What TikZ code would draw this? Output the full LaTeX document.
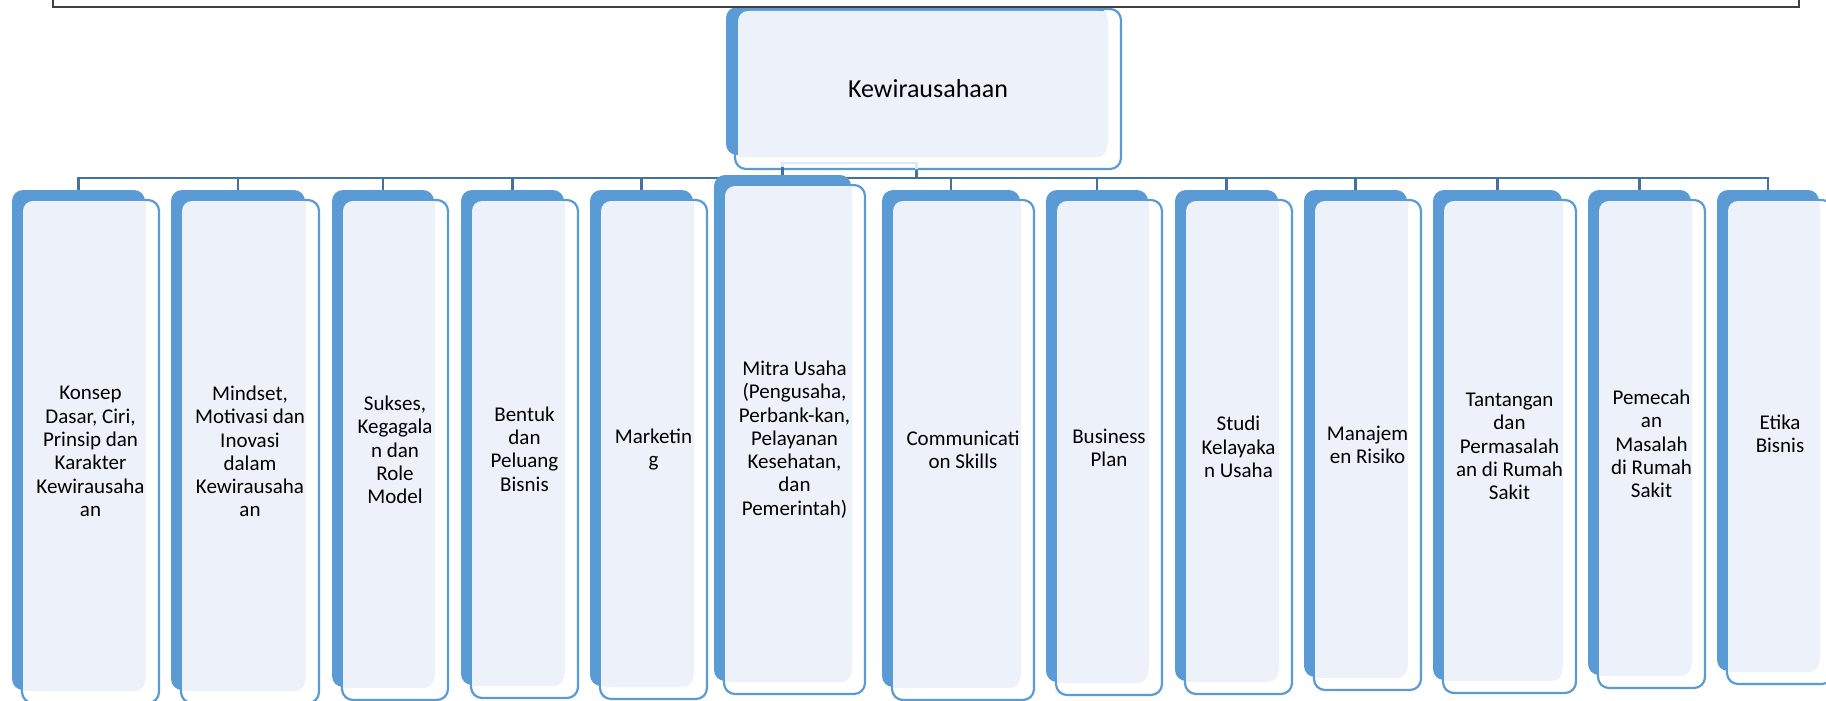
\documentclass[tikz,border=0pt]{standalone}
\usepackage{fontspec}
\setmainfont{Carlito}
\usetikzlibrary{calc}
\definecolor{accblue}{RGB}{91,155,213}
\definecolor{lightfill}{RGB}{237,242,250}
\definecolor{connc}{RGB}{68,114,160}
\definecolor{framec}{RGB}{64,64,64}
\definecolor{faintc}{RGB}{222,231,243}
\pgfdeclarelayer{bg}
\pgfsetlayers{bg,main}
\tikzset{
  outl/.style={draw=accblue, line width=2.2pt, fill=white, rounded corners=11pt},
  bluebox/.style={fill=accblue, draw=none, rounded corners=11pt, inner sep=0pt, outer sep=0pt, rectangle},
  lbl/.style={align=center, inner sep=0pt, font=\fontsize{21}{23.3}\selectfont, text=black},
  toplbl/.style={align=center, inner sep=0pt, font=\fontsize{26}{30}\selectfont, text=black},
  conn/.style={draw=connc, line width=2.6pt},
  faint/.style={draw=faintc, line width=2.4pt},
  framel/.style={draw=framec, line width=2pt},
}
% [text y shift], name, Al, Ar, At, Ab, text
\newcommand{\kbox}[7][0]{%
  \pgfmathsetmacro\kwA{#4-#3}%
  \pgfmathsetmacro\khA{#6-#5}%
  \draw[outl] ({#3+10},{#5+10}) rectangle ({#4+14},{#6+13});
  \node[bluebox, minimum width=\kwA pt, minimum height=\khA pt] (#2) at ({(#3+#4)/2},{(#5+#6)/2}) {};
  \fill[lightfill, rounded corners=10pt] ({#3+11},{#5+11}) rectangle ({#4},{#6+1});
  \fill[lightfill] ({#4-11},{#5+11}) rectangle ({#4},{#5+22});
  \fill[lightfill] ({#3+11},{#6+1}) rectangle ({#3+22},{#6-10});
  \node[lbl] (#2t) at ({(#3+#4)/2+12},{(#5+#6)/2+11.5+#1}) {#7};
}
\begin{document}
\begin{tikzpicture}[x=1pt, y=-1pt]
\useasboundingbox (0,0) rectangle (1826,701);

% top box
\draw[outl] (735,9) rectangle (1121,169);
\node[bluebox, minimum width=381pt, minimum height=148pt] (root) at (916.5,81) {};
\fill[lightfill, rounded corners=10pt] (738,11) rectangle (1107,157);
\fill[lightfill] (1096,11) rectangle (1107,22);
\fill[lightfill] (738,157) rectangle (749,146);
\node[toplbl] (roott) at (928,89) {Kewirausahaan};

% children
\kbox{c1}{12}{145}{190}{690}{Konsep\\Dasar, Ciri,\\Prinsip dan\\Karakter\\Kewirausaha\\an}
\kbox{c2}{171}{305}{190}{690}{Mindset,\\Motivasi dan\\Inovasi\\dalam\\Kewirausaha\\an}
\kbox{c3}{332}{434}{190}{687}{Sukses,\\Kegagala\\n dan\\Role\\Model}
\kbox{c4}{461}{564}{190}{685}{Bentuk\\dan\\Peluang\\Bisnis}
\kbox{c5}{590}{693}{190}{686}{Marketin\\g}
\kbox{c6}{714}{851}{175}{681}{Mitra Usaha\\(Pengusaha,\\Perbank-kan,\\Pelayanan\\Kesehatan,\\dan\\Pemerintah)}
\kbox{c7}{882}{1020}{190}{687}{Communicati\\on Skills}
\kbox{c8}{1046}{1148}{190}{682}{Business\\Plan}
\kbox{c9}{1175}{1278}{190}{681}{Studi\\Kelayaka\\n Usaha}
\kbox{c10}{1304}{1407}{190}{677}{Manajem\\en Risiko}
\kbox{c11}{1433}{1562}{190}{680}{Tantangan\\dan\\Permasalah\\an di Rumah\\Sakit}
\kbox{c12}{1588}{1691}{190}{675}{Pemecah\\an\\Masalah\\di Rumah\\Sakit}
\kbox[-8]{c13}{1717}{1819}{190}{671}{Etika\\Bisnis}

% connectors
\coordinate (busc) at (916.5,178);
\begin{pgfonlayer}{bg}
\draw[conn] (root.south) -- (busc);
\foreach \i in {1,2,3,4,5,6,7,8,9,10,11,12,13}{
  \draw[conn] (busc) -| (c\i.north);
}
\end{pgfonlayer}
\coordinate (m6) at (782.5,163);
\coordinate (r6) at (916.5,163);
\coordinate (k6) at (782.5,167);
\draw[faint] (k6) -- (m6) -- (r6) -- ++(0,6);
\draw[conn] (k6) -- (c6.north);

% frame
\draw[framel] (53,0) -- (53,7) -- (1799,7) -- (1799,0);
\end{tikzpicture}
\end{document}
